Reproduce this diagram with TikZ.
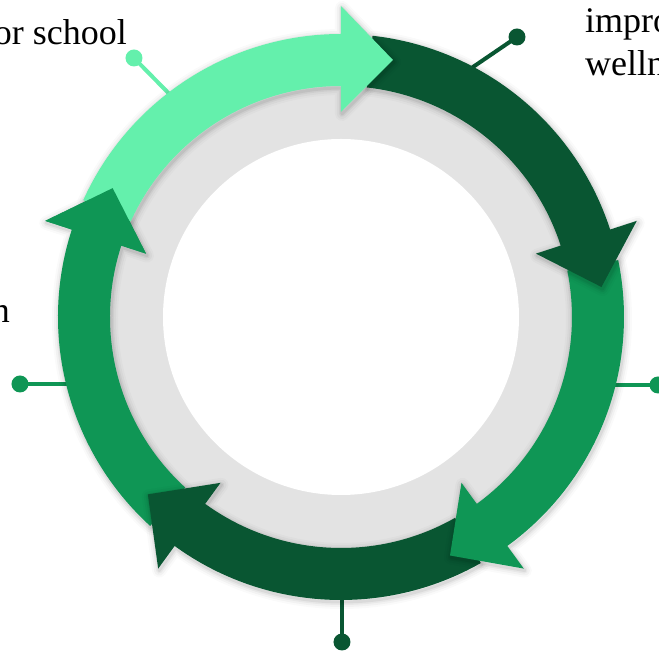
\documentclass[tikz,border=0pt]{standalone}
\usepackage{fontspec}
\setmainfont{Liberation Serif}
\usetikzlibrary{calc}
\definecolor{cLight}{HTML}{64F0AC}
\definecolor{cMid}{HTML}{0F9655}
\definecolor{cDark}{HTML}{095632}
\definecolor{cGray}{HTML}{E3E3E3}
\newcommand\arrowpath[2]{(#1:283) arc[start angle=#1,end angle=#2,radius=283]
    -- (#2:311) -- ($(#2:257)+({#2-90}:52)$) -- (#2:205) -- (#2:231)
    arc[start angle=#2,end angle=#1,radius=231] -- cycle}
\newcommand\cyclearrow[3]{%
  \foreach \w/\o in {14/0.02,10/0.03,6/0.045,3/0.06}{%
    \draw[black,draw opacity=\o,line width=\w pt,line join=round,shift={(1,-2)}] \arrowpath{#2}{#3};}
  \fill[#1] \arrowpath{#2}{#3};}
\newcommand\cyclehead[2]{%
  \fill[#1] (#2:311) -- ($(#2:257)+({#2-90}:52)$) -- (#2:205) -- cycle;}
\begin{document}
\begin{tikzpicture}[x=1pt,y=1pt,
  pinline/.style={line width=4pt},
  pindot/.style={circle,fill,minimum size=17pt,inner sep=0pt},
  lbl/.style={font=\fontsize{36}{43}\selectfont,inner sep=0pt}]
\useasboundingbox (-341,-335) rectangle (318,317);
% ring
\fill[cGray] (0,0) circle (233);
\fill[white] (0,0) circle (178);
% pins
\node[pindot,cLight] (p1) at (-207,259) {};
\coordinate (p1e) at (-151,202);
\draw[pinline,cLight] (p1.center) -- (p1e);
\node[pindot,cDark] (p2) at (176,280) {};
\coordinate (p2e) at (110,235);
\draw[pinline,cDark] (p2.center) -- (p2e);
\node[pindot,cMid] (p3) at (317,-68) {};
\coordinate (p3e) at (259,-68);
\draw[pinline,cMid] (p3.center) -- (p3e);
\node[pindot,cDark] (p4) at (1,-325) {};
\coordinate (p4e) at (1,-263);
\draw[pinline,cDark] (p4.center) -- (p4e);
\node[pindot,cMid] (p5) at (-321,-67) {};
\coordinate (p5e) at (-256,-67);
\draw[pinline,cMid] (p5.center) -- (p5e);
% arrows
\cyclearrow{cMid}{-132.4}{-198}
\cyclearrow{cDark}{-60.4}{-126}
\cyclearrow{cMid}{11.6}{-54}
\cyclearrow{cDark}{83.6}{18}
\cyclearrow{cLight}{155.6}{90}
\cyclehead{cMid}{-198}
% labels
\node[lbl,anchor=base east] (t1) at (-214,272) {or school};
\node[lbl,anchor=base west] (t2) at (244,284) {impro};
\node[lbl,anchor=base west] (t3) at (244,241) {welln};
\node[lbl,anchor=base east] (t4) at (-331,-6) {n};
\end{tikzpicture}
\end{document}
